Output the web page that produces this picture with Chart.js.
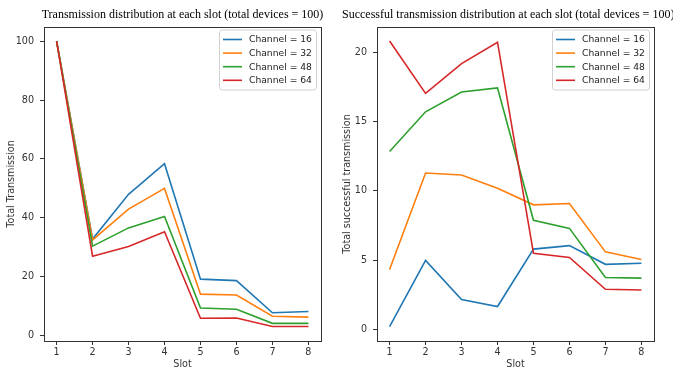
<!DOCTYPE html>
<html>
<head>
<meta charset="utf-8">
<script src="https://cdn.jsdelivr.net/npm/chart.js@4.4.0/dist/chart.umd.min.js"></script>
<style>
  html, body { margin: 0; padding: 0; background: #fff; overflow: hidden; width: 673px; height: 369px; }
  #left { position: absolute; left: 0; top: 0; }
  #right { position: absolute; left: 336px; top: 0; }
</style>
</head>
<body>
<canvas id="left" width="336" height="369"></canvas>
<canvas id="right" width="400" height="369"></canvas>
<script>
var slots = [1, 2, 3, 4, 5, 6, 7, 8];
var channels = ['Channel = 16', 'Channel = 32', 'Channel = 48', 'Channel = 64'];
var colors = ['#1f77b4', '#ff7f0e', '#2ca02c', '#d62728'];

// total transmission per slot
var totalCh16 = [100, 32.8, 48.0, 58.4, 19.2, 18.7, 7.8, 8.2];
var totalCh32 = [100, 32.5, 43.0, 50.0, 14.1, 13.8, 6.6, 6.3];
var totalCh48 = [100, 30.4, 36.6, 40.5, 9.4, 9.0, 4.2, 4.2];
var totalCh64 = [100, 27.0, 30.3, 35.3, 5.9, 6.0, 3.1, 3.1];

// successful transmission per slot
var succCh16 = [0.2, 4.98, 2.15, 1.65, 5.8, 6.05, 4.7, 4.78];
var succCh32 = [4.33, 11.3, 11.15, 10.2, 9.0, 9.1, 5.6, 5.05];
var succCh48 = [12.85, 15.72, 17.15, 17.45, 7.88, 7.3, 3.75, 3.7];
var succCh64 = [20.84, 17.05, 19.2, 20.75, 5.5, 5.2, 2.9, 2.85];

var totalTicks = [0, 20, 40, 60, 80, 100];
var succTicks = [0, 5, 10, 15, 20];

var tickFont = { family: 'DejaVu Sans', size: 9.6 };
var tickColor = '#333';

function makeSets(series) {
	var sets = [];
	for (var i in series) {
		sets.push({
			label: channels[i],
			data: slots.map(function(s, j) { return { x: s, y: series[i][j] }; }),
			borderColor: colors[i],
			backgroundColor: colors[i],
			borderWidth: 1.6,
			pointRadius: 0,
			tension: 0,
			order: 4 - i
		});
	}
	return sets;
}

// frame, title and legend drawn like matplotlib
var decor = {
	id: 'decor',
	afterDraw: function(chart) {
		var ctx = chart.ctx;
		var a = chart.chartArea;
		var o = chart.options.plugins.decor;
		ctx.save();
		ctx.strokeStyle = '#333';
		ctx.lineWidth = 1;
		ctx.strokeRect(Math.round(a.left) + 0.5, Math.round(a.top) + 0.5, Math.round(a.right - a.left), Math.round(a.bottom - a.top));

		ctx.fillStyle = '#000';
		ctx.font = '12px "Liberation Serif"';
		ctx.textBaseline = 'middle';
		if (o.titleX != null) {
			ctx.textAlign = 'left';
			ctx.fillText(o.title, o.titleX, 14.5);
		} else {
			ctx.textAlign = 'center';
			ctx.fillText(o.title, (a.left + a.right) / 2, 14.5);
		}

		var bw = 97, bh = 60;
		var bx = a.right - 5 - bw, by = a.top + 2.5;
		ctx.beginPath();
		ctx.roundRect(bx + 0.5, by + 0.5, bw, bh, 3);
		ctx.fillStyle = 'rgba(255,255,255,0.85)';
		ctx.fill();
		ctx.strokeStyle = '#d0d0d0';
		ctx.stroke();
		ctx.font = '9.2px "DejaVu Sans"';
		ctx.textAlign = 'left';
		chart.data.datasets.forEach(function(ds, i) {
			var y = by + 10 + i * 13.6;
			ctx.strokeStyle = ds.borderColor;
			ctx.lineWidth = 1.6;
			ctx.beginPath();
			ctx.moveTo(bx + 4, y);
			ctx.lineTo(bx + 23, y);
			ctx.stroke();
			ctx.fillStyle = '#222';
			ctx.fillText(ds.label, bx + 30, y + 0.5);
		});
		ctx.restore();
	}
};

function makeChart(id, series, yTicks, yMin, yMax, yTitle, title, titleX, leftW, rightPad) {
	return new Chart(document.getElementById(id), {
		type: 'line',
		data: { datasets: makeSets(series) },
		plugins: [decor],
		options: {
			responsive: false,
			animation: false,
			layout: { padding: { left: 0, right: rightPad, top: 27, bottom: 0 } },
			plugins: {
				legend: { display: false },
				tooltip: { enabled: false },
				decor: { title: title, titleX: titleX }
			},
			scales: {
				x: {
					type: 'linear',
					min: 0.65,
					max: 8.35,
					afterBuildTicks: function(s) { s.ticks = slots.map(function(v) { return { value: v }; }); },
					afterFit: function(s) { s.height = 28; },
					grid: { drawOnChartArea: false, drawTicks: true, tickLength: 4, color: tickColor },
					border: { display: false },
					ticks: { font: tickFont, color: tickColor, padding: 2, maxRotation: 0 },
					title: { display: true, text: 'Slot', font: tickFont, color: tickColor, padding: { top: 0, bottom: -1 } }
				},
				y: {
					min: yMin,
					max: yMax,
					afterBuildTicks: function(s) { s.ticks = yTicks.map(function(v) { return { value: v }; }); },
					afterFit: function(s) { s.width = leftW; },
					grid: { drawOnChartArea: false, drawTicks: true, tickLength: 4, color: tickColor },
					border: { display: false },
					ticks: { font: tickFont, color: tickColor, padding: 6 },
					title: { display: true, text: yTitle, font: tickFont, color: tickColor, padding: { top: 6, bottom: 0 } }
				}
			}
		}
	});
}

makeChart('left', [totalCh16, totalCh32, totalCh48, totalCh64], totalTicks, -1.8, 104.8,
	'Total Transmission', 'Transmission distribution at each slot (total devices = 100)', null, 44, 15);
makeChart('right', [succCh16, succCh32, succCh48, succCh64], succTicks, -0.84, 21.85,
	'Total successful transmission', 'Successful transmission distribution at each slot (total devices = 100)', 6, 41, 82);
</script>
</body>
</html>
